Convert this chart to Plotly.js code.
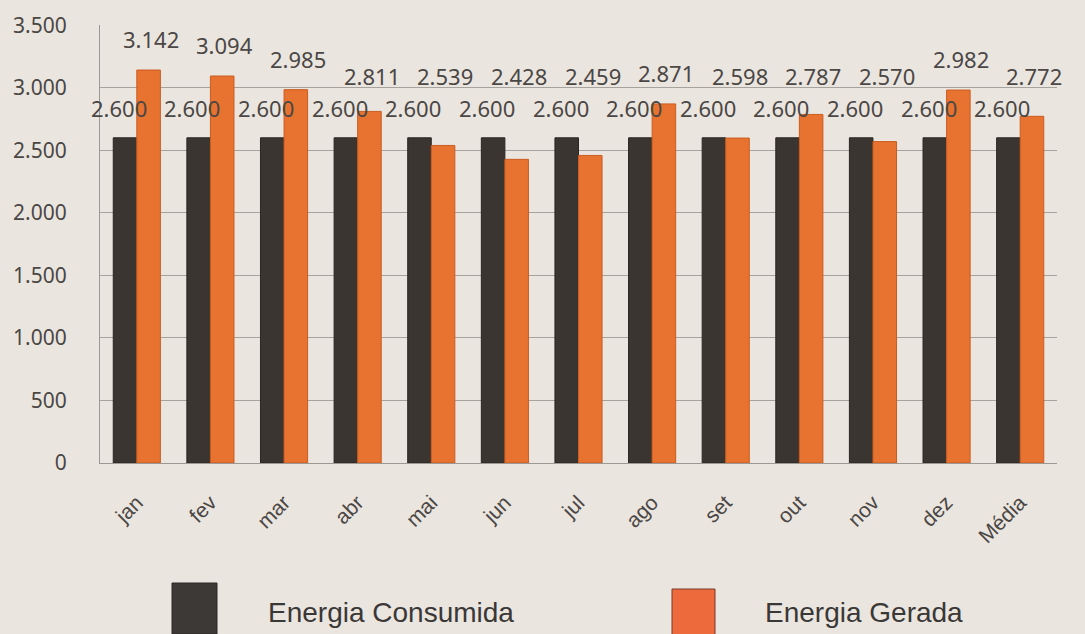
<!DOCTYPE html>
<html>
<head>
<meta charset="utf-8">
<script src="https://cdn.plot.ly/plotly-3.0.1.min.js"></script>
<style>
html,body{margin:0;padding:0;background:#ebe5e0;}
#chart{width:1085px;height:634px;}
</style>
</head>
<body>
<div id="chart"></div>
<script>
const months = ["jan","fev","mar","abr","mai","jun","jul","ago","set","out","nov","dez","Média"];
const consumida = [2600,2600,2600,2600,2600,2600,2600,2600,2600,2600,2600,2600,2600];
const gerada = [3142,3094,2985,2811,2539,2428,2459,2871,2598,2787,2570,2982,2772];
const seriesNames = ["Energia Consumida","Energia Gerada"];
const yTicks = [0,500,1000,1500,2000,2500,3000,3500];

const darkColor = "#3a3531";
const orangeColor = "#e8722f";
const labelFont = {family:"Noto Sans, DejaVu Sans, sans-serif", size:22, color:"#4a4744"};

const traces = [
  {type:"bar", name:seriesNames[0], x:months, y:consumida,
   marker:{color:darkColor, line:{color:"#2a2623", width:1}}, hoverinfo:"x+y"},
  {type:"bar", name:seriesNames[1], x:months, y:gerada,
   marker:{color:orangeColor, line:{color:"#c95d22", width:1}}, hoverinfo:"x+y"}
];

const fmt = v => v.toLocaleString("de-DE");
const annotations = [];
months.forEach((m,i)=>{
  annotations.push({x:m, y:consumida[i], xref:"x", yref:"y", text:fmt(consumida[i]),
    showarrow:false, xshift:-18, yshift:30, font:labelFont});
  annotations.push({x:m, y:Math.max(gerada[i], 2850), xref:"x", yref:"y", text:fmt(gerada[i]),
    showarrow:false, xshift:14, yshift:31, font:labelFont});
});
// legend texts
const legFont = {family:"Liberation Sans, Arial, sans-serif", size:28, color:"#3a3836"};
annotations.push({xref:"paper", yref:"paper", x:(266-100)/957, y:-(612-463)/438, text:seriesNames[0],
  showarrow:false, xanchor:"left", yanchor:"middle", font:legFont});
annotations.push({xref:"paper", yref:"paper", x:(763-100)/957, y:-(612-463)/438, text:seriesNames[1],
  showarrow:false, xanchor:"left", yanchor:"middle", font:legFont});

const px = v => (v-100)/957;
const py = v => (463-v)/438;
const shapes = [
  {type:"rect", xref:"paper", yref:"paper", x0:px(172), x1:px(217), y0:py(634), y1:py(583),
   fillcolor:"#3d3936", line:{color:"#2c2926", width:1}},
  {type:"rect", xref:"paper", yref:"paper", x0:px(672), x1:px(715), y0:py(640), y1:py(589),
   fillcolor:"#ec6a3c", line:{color:"#7a3a2a", width:1}}
];

const layout = {
  width:1085, height:634,
  paper_bgcolor:"#ebe5e0", plot_bgcolor:"#ebe5e0",
  margin:{l:100, r:28, t:25, b:171},
  separators:",.",
  barmode:"group", bargap:0.36, bargroupgap:0,
  showlegend:false,
  xaxis:{type:"category", range:[-0.5, months.length-0.5], automargin:false,
    tickangle:-45, ticklabelstandoff:18,
    tickfont:{family:"Liberation Sans, Arial, sans-serif", size:21, color:"#4a4744"},
    showline:true, linecolor:"#9c9894", linewidth:1, ticks:"", showgrid:false},
  yaxis:{range:[0,3502], automargin:false, tickvals:yTicks, tickformat:",d",
    tickfont:{family:"Noto Sans, DejaVu Sans, sans-serif", size:21, color:"#4a4744"},
    ticklabelstandoff:28,
    showgrid:true, gridcolor:"#a6a29e", gridwidth:1,
    showline:true, linecolor:"#9c9894", linewidth:1, zeroline:false, ticks:""},
  annotations:annotations,
  shapes:shapes
};

Plotly.newPlot("chart", traces, layout, {displayModeBar:false, staticPlot:true});
</script>
</body>
</html>
